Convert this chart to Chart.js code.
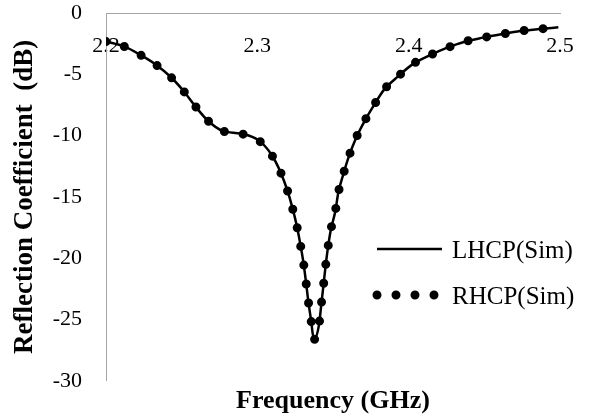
<!DOCTYPE html>
<html>
<head>
<meta charset="utf-8">
<script src="https://cdn.jsdelivr.net/npm/chart.js@4.4.0/dist/chart.umd.min.js"></script>
<style>
  html, body { margin: 0; padding: 0; background: #fff; }
  #wrap { width: 597px; height: 420px; position: relative; }
</style>
</head>
<body>
<div id="wrap"><canvas id="s11Chart"></canvas></div>
<script>
  // simulated sweep, GHz / dB
  const FREQ = [
    2.2, 2.2119, 2.2225, 2.233, 2.2428, 2.2511, 2.2588, 2.2672, 2.2771, 2.2892,
    2.3011, 2.3095, 2.3154, 2.3198, 2.3232, 2.3262, 2.3285, 2.3306, 2.3322, 2.3337,
    2.3355, 2.3374, 2.3408, 2.3422, 2.3436, 2.345, 2.3465, 2.3485, 2.3515, 2.3535,
    2.3568, 2.3606, 2.3651, 2.3708, 2.377, 2.3839, 2.393, 2.4027, 2.4138, 2.4251,
    2.437, 2.4491, 2.4612, 2.4738, 2.486, 2.4989,
  ];
  const LHCP_SIM = [
    -2.33, -2.72, -3.4, -4.22, -5.22, -6.34, -7.57, -8.77, -9.62, -9.84,
    -10.41, -11.58, -13.0, -14.45, -15.9, -17.43, -18.92, -20.47, -21.99, -23.52,
    -25.06, -26.64, -25.4, -23.84, -22.32, -20.75, -19.28, -17.72, -16.19, -14.67,
    -13.16, -11.66, -10.23, -8.83, -7.53, -6.23, -5.17, -4.17, -3.46, -2.85,
    -2.34, -2.01, -1.73, -1.47, -1.31, -1.17,
  ];
  const RHCP_SIM = [
    -2.33, -2.72, -3.4, -4.22, -5.22, -6.34, -7.57, -8.77, -9.62, -9.84,
    -10.41, -11.58, -13.0, -14.45, -15.9, -17.43, -18.92, -20.47, -21.99, -23.52,
    -25.06, -26.64, -25.4, -23.84, -22.32, -20.75, -19.28, -17.72, -16.19, -14.67,
    -13.16, -11.66, -10.23, -8.83, -7.53, -6.23, -5.17, -4.17, -3.46, -2.85,
    -2.34, -2.01, -1.73, -1.47, -1.31, -1.17,
  ];
  const SERIES_NAMES = ["LHCP(Sim)", "RHCP(Sim)"];
  const X_TICKS = [2.2, 2.3, 2.4, 2.5];
  const Y_TICKS = [-30, -25, -20, -15, -10, -5, 0];

  const SERIF = "'Times New Roman', 'Liberation Serif', serif";
  const AXIS_GRAY = "#a6a6a6";

  const toPoints = (ys) => FREQ.map((f, i) => ({ x: f, y: ys[i] }));

  // legend sits inside the plot, right of the dip
  const sideLegend = {
    id: "sideLegend",
    afterDraw(chart) {
      const { ctx } = chart;
      const x0 = 377, x1 = 442, textX = 452;
      const rowY = [249, 295];
      ctx.save();
      chart.data.datasets.forEach((ds, i) => {
        ctx.strokeStyle = ds.borderColor;
        ctx.lineWidth = ds.borderWidth;
        ctx.lineCap = ds.borderCapStyle || "butt";
        ctx.setLineDash(ds.borderDash || []);
        ctx.beginPath();
        ctx.moveTo(x0, rowY[i]);
        ctx.lineTo(x1, rowY[i]);
        ctx.stroke();
      });
      ctx.setLineDash([]);
      ctx.fillStyle = "#000";
      ctx.font = "25px " + SERIF;
      ctx.textBaseline = "middle";
      SERIES_NAMES.forEach((name, i) => ctx.fillText(name, textX, rowY[i] + 2));
      ctx.restore();
    },
  };

  new Chart(document.getElementById("s11Chart"), {
    type: "line",
    data: {
      datasets: [
        {
          label: SERIES_NAMES[0],
          data: toPoints(LHCP_SIM),
          borderColor: "#000",
          borderWidth: 2.5,
          pointRadius: 0,
          cubicInterpolationMode: "monotone",
        },
        {
          label: SERIES_NAMES[1],
          data: toPoints(RHCP_SIM),
          borderColor: "#000",
          borderWidth: 9,
          borderDash: [0, 19],
          borderCapStyle: "round",
          pointRadius: 0,
          cubicInterpolationMode: "monotone",
        },
      ],
    },
    options: {
      responsive: true,
      maintainAspectRatio: false,
      animation: false,
      layout: { padding: { left: 0, right: 37, top: 13, bottom: 0 } },
      plugins: {
        legend: { display: false },
        tooltip: { enabled: false },
        title: {
          display: true,
          text: "Frequency (GHz)",
          position: "bottom",
          fullSize: false,
          color: "#000",
          font: { family: SERIF, size: 26, weight: "bold" },
          padding: { top: 5, bottom: 3 },
        },
      },
      scales: {
        x: {
          type: "linear",
          position: { y: 0 },
          min: 2.2,
          max: 2.5,
          afterBuildTicks: (s) => (s.ticks = X_TICKS.map((v) => ({ value: v }))),
          // axis crosses at 0 dB; keep it from taking layout room
          afterFit: (s) => (s.height = 0),
          grid: { display: false, drawTicks: false },
          border: { display: true, color: AXIS_GRAY, width: 1 },
          ticks: {
            color: "#000",
            padding: 20,
            font: { family: SERIF, size: 22 },
            callback: (v) => v.toFixed(1),
          },
        },
        y: {
          min: -30,
          max: 0,
          afterBuildTicks: (s) => (s.ticks = Y_TICKS.map((v) => ({ value: v }))),
          afterFit: (s) => {
            s.width = 106;
            // tick padding would otherwise push the plot down from the top
            s.paddingTop = 0;
            s.paddingBottom = 0;
          },
          grid: { display: false, drawTicks: false },
          border: { display: true, color: AXIS_GRAY, width: 1 },
          ticks: {
            color: "#000",
            padding: 24,
            font: { family: SERIF, size: 22 },
          },
          title: {
            display: true,
            text: "Reflection Coefficient  (dB)",
            color: "#000",
            font: { family: SERIF, size: 27, weight: "bold" },
            padding: { top: 9, bottom: 0 },
          },
        },
      },
    },
    plugins: [sideLegend],
  });
</script>
</body>
</html>
